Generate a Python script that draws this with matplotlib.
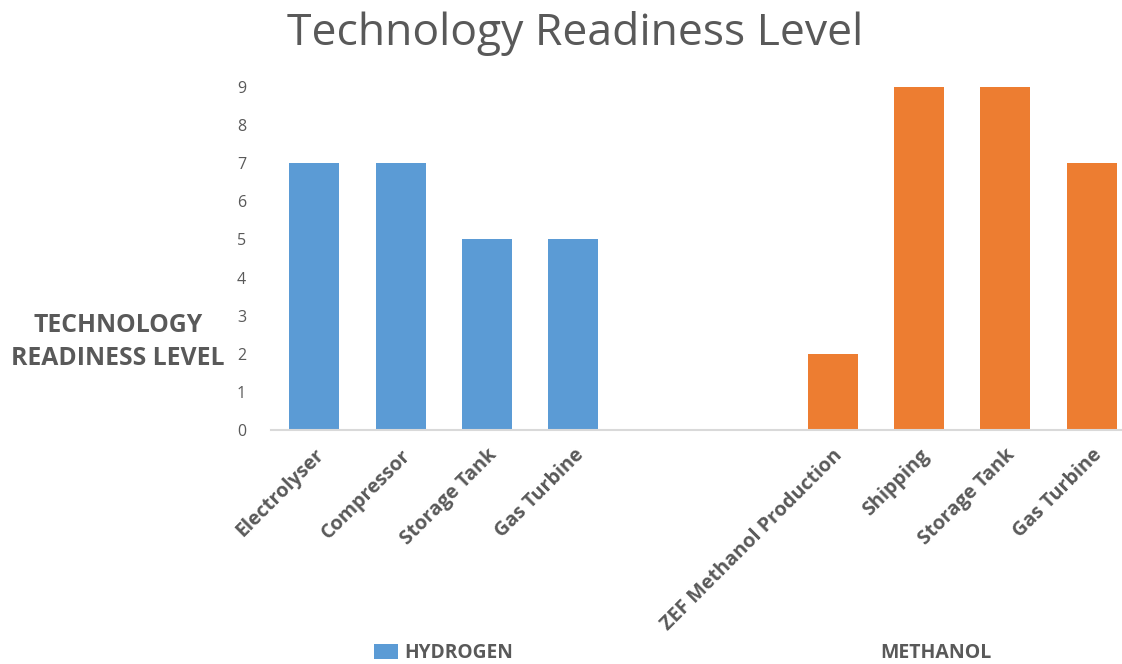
import matplotlib
matplotlib.use("Agg")
import matplotlib.pyplot as plt
import numpy as np

hydrogen_labels = ["Electrolyser", "Compressor", "Storage Tank", "Gas Turbine"]
hydrogen_values = [7, 7, 5, 5]
methanol_labels = ["ZEF Methanol Production", "Shipping", "Storage Tank", "Gas Turbine"]
methanol_values = [2, 9, 9, 7]
yticks = list(range(0, 10))

GRAY = "#595959"
BLUE = "#5B9BD5"
ORANGE = "#ED7D31"
plt.rcParams['font.family'] = ['Open Sans', 'DejaVu Sans']

fig = plt.figure(figsize=(11.22, 6.64), dpi=100)
W, H = 1122, 664
ax = fig.add_axes([271 / W, 1 - 430 / H, (1135 - 271) / W, (430 - 87) / H])

gap = 2
xh = np.arange(len(hydrogen_values))
xm = np.arange(len(methanol_values)) + len(hydrogen_values) + gap
bw = 0.58
hb = ax.bar(xh, hydrogen_values, width=bw, color=BLUE, label="HYDROGEN")
ax.bar(xm, methanol_values, width=bw, color=ORANGE)

ax.set_xlim(-0.5, len(hydrogen_values) + gap + len(methanol_values) - 0.5)
ax.set_ylim(0, 9)
ax.set_yticks(yticks)
ax.set_xticks(list(xh) + list(xm))
ax.set_xticklabels(hydrogen_labels + methanol_labels, rotation=45, ha='right',
                   rotation_mode='anchor', fontsize=14.2, fontweight='bold', color=GRAY)
ax.tick_params(axis='x', length=0, pad=11)
ax.tick_params(axis='y', length=0, labelsize=11.5, labelcolor=GRAY, pad=18)
for s in ['top', 'right', 'left']:
    ax.spines[s].set_visible(False)
ax.spines['bottom'].set_color('#D9D9D9')
ax.spines['bottom'].set_linewidth(1.5)

fig.text(575 / W, 1 - 33 / H, "Technology Readiness Level", ha='center', va='center',
         fontsize=32, color=GRAY)
fig.text(118 / W, 1 - 342 / H, "TECHNOLOGY\nREADINESS LEVEL", ha='center', va='center',
         fontsize=17.8, fontweight='bold', color=GRAY, linespacing=1.45)

leg = fig.legend(handles=[hb], labels=["HYDROGEN"], loc='center left',
                 bbox_to_anchor=(357 / W, 1 - 653 / H), frameon=False,
                 prop={'weight': 'bold', 'size': 13.8}, handlelength=1.25, handleheight=0.85,
                 handletextpad=0.3)
for t in leg.get_texts():
    t.set_color(GRAY)
fig.text(880 / W, 1 - 653 / H, "METHANOL", ha='left', va='center', fontsize=14,
         fontweight='bold', color=GRAY)

fig.savefig("out.png", dpi=100)
